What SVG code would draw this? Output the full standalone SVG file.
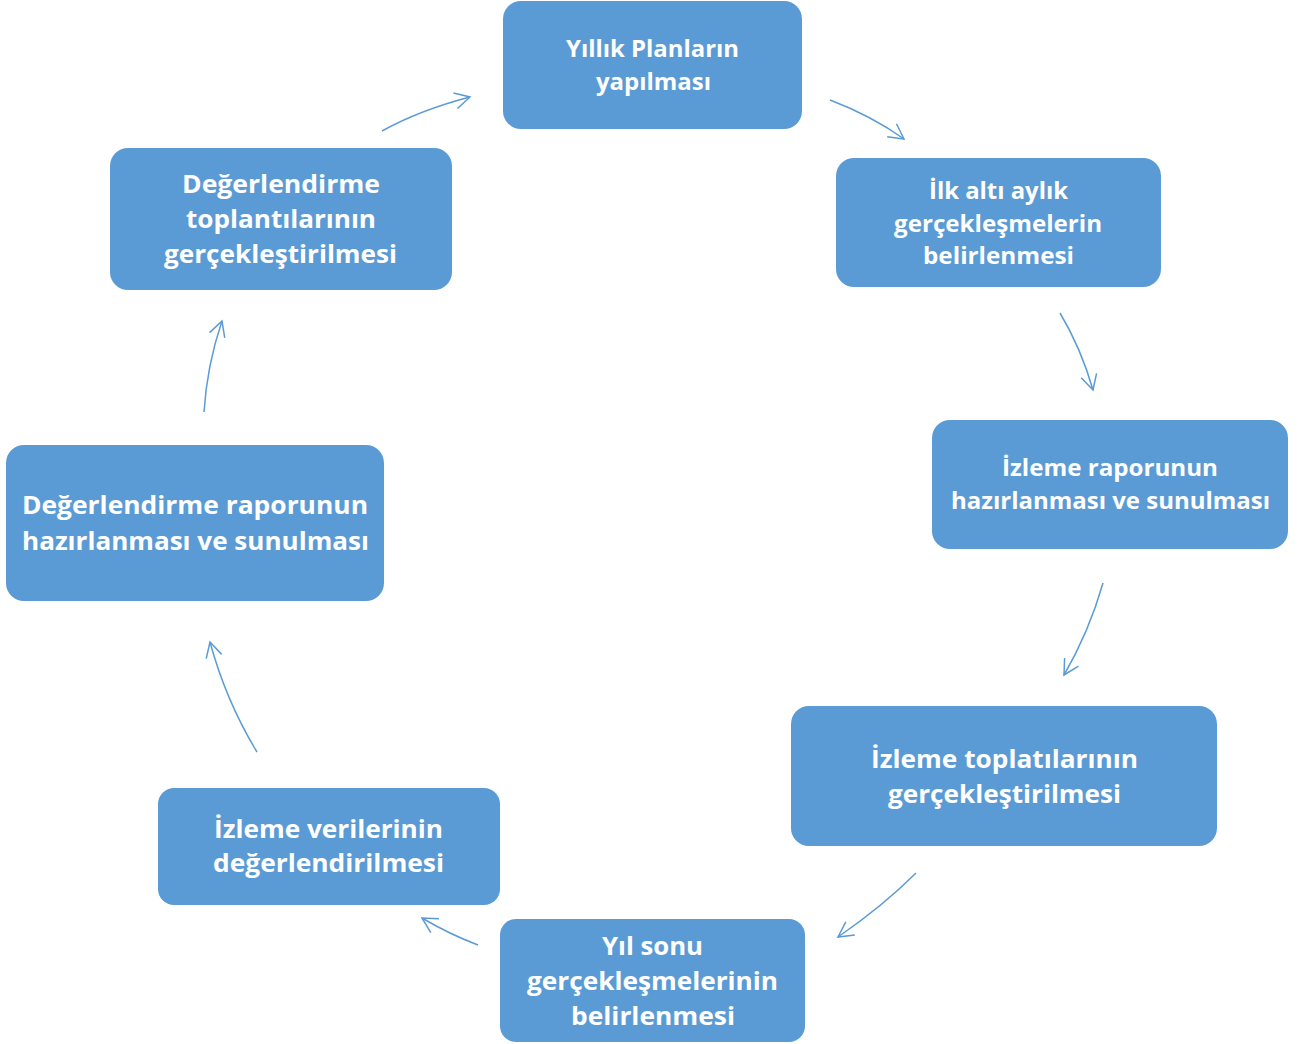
<svg xmlns="http://www.w3.org/2000/svg" width="1298" height="1044" viewBox="0 0 1298 1044">
<style>
.box{fill:#5B9BD5;}
.t{fill:#FFFFFF;font-family:"Open Sans","Noto Sans","DejaVu Sans",sans-serif;font-weight:700;text-anchor:middle;dominant-baseline:central;}
.s{font-size:23px;}
.m{font-size:24.5px;}
.l{font-size:25.5px;}
.c{fill:none;stroke:#5B9BD5;stroke-width:1.5;marker-end:url(#ah);}
</style>
<defs>
<marker id="ah" markerUnits="userSpaceOnUse" markerWidth="30" markerHeight="30" refX="0" refY="0" viewBox="-20 -15 30 30" orient="auto">
<path d="M-15,-8 L0,0 L-15,8" fill="none" stroke="#5B9BD5" stroke-width="1.5"/>
</marker>
</defs>
<rect width="1298" height="1044" fill="#FFFFFF"/>
<g id="connectors">
<path class="c" d="M382,131 Q420,110 470,97"/>
<path class="c" d="M830,100 Q872,116 904,139"/>
<path class="c" d="M1060,313 Q1081,348 1093,390"/>
<path class="c" d="M1103,583 Q1089,632 1064,675"/>
<path class="c" d="M916,873 Q883,906 838,937"/>
<path class="c" d="M478,945 Q449,934 422,918"/>
<path class="c" d="M257,752 Q226,701 210,642"/>
<path class="c" d="M204,412 Q207,365 222,321"/>
</g>
<g id="node1">
<rect class="box" x="503" y="1" width="299" height="128" rx="18"/>
<text class="t s" x="652.5" y="48" textLength="173" lengthAdjust="spacingAndGlyphs">Yıllık Planların</text>
<text class="t s" x="653.5" y="81" textLength="115" lengthAdjust="spacingAndGlyphs">yapılması</text>
</g>
<g id="node2">
<rect class="box" x="836" y="158" width="325" height="129" rx="18"/>
<text class="t s" x="998.5" y="190" textLength="139" lengthAdjust="spacingAndGlyphs">İlk altı aylık</text>
<text class="t s" x="998" y="223" textLength="208" lengthAdjust="spacingAndGlyphs">gerçekleşmelerin</text>
<text class="t s" x="998.5" y="255" textLength="151" lengthAdjust="spacingAndGlyphs">belirlenmesi</text>
</g>
<g id="node3">
<rect class="box" x="932" y="420" width="356" height="129" rx="18"/>
<text class="t s" x="1110" y="467" textLength="216" lengthAdjust="spacingAndGlyphs">İzleme raporunun</text>
<text class="t s" x="1110.5" y="500" textLength="319" lengthAdjust="spacingAndGlyphs">hazırlanması ve sunulması</text>
</g>
<g id="node4">
<rect class="box" x="791" y="706" width="426" height="140" rx="18"/>
<text class="t l" x="1004.5" y="758" textLength="267" lengthAdjust="spacingAndGlyphs">İzleme toplatılarının</text>
<text class="t l" x="1004.5" y="793" textLength="233" lengthAdjust="spacingAndGlyphs">gerçekleştirilmesi</text>
</g>
<g id="node5">
<rect class="box" x="500" y="919" width="305" height="123" rx="16"/>
<text class="t l" x="652.5" y="945" textLength="101" lengthAdjust="spacingAndGlyphs">Yıl sonu</text>
<text class="t l" x="652.5" y="980" textLength="251" lengthAdjust="spacingAndGlyphs">gerçekleşmelerinin</text>
<text class="t l" x="653" y="1015" textLength="164" lengthAdjust="spacingAndGlyphs">belirlenmesi</text>
</g>
<g id="node6">
<rect class="box" x="158" y="788" width="342" height="117" rx="16"/>
<text class="t l" x="328.5" y="828" textLength="229" lengthAdjust="spacingAndGlyphs">İzleme verilerinin</text>
<text class="t l" x="328.5" y="862" textLength="231" lengthAdjust="spacingAndGlyphs">değerlendirilmesi</text>
</g>
<g id="node7">
<rect class="box" x="6" y="445" width="378" height="156" rx="18"/>
<text class="t l" x="195" y="504" textLength="346" lengthAdjust="spacingAndGlyphs">Değerlendirme raporunun</text>
<text class="t l" x="195.5" y="540" textLength="347" lengthAdjust="spacingAndGlyphs">hazırlanması ve sunulması</text>
</g>
<g id="node8">
<rect class="box" x="110" y="148" width="342" height="142" rx="18"/>
<text class="t l" x="281" y="183" textLength="198" lengthAdjust="spacingAndGlyphs">Değerlendirme</text>
<text class="t l" x="281" y="218" textLength="190" lengthAdjust="spacingAndGlyphs">toplantılarının</text>
<text class="t l" x="280.5" y="253" textLength="233" lengthAdjust="spacingAndGlyphs">gerçekleştirilmesi</text>
</g>
</svg>
